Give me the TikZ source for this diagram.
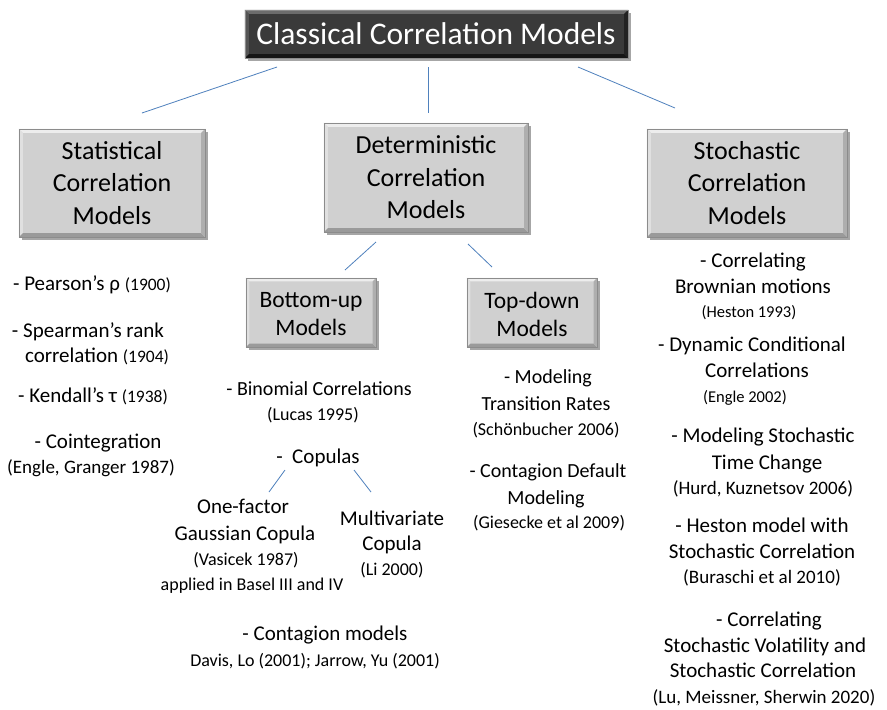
\documentclass[tikz,border=0pt]{standalone}
\usepackage{fontspec}
\setmainfont{Carlito}
\usetikzlibrary{calc,shadows}
\definecolor{boxfill}{HTML}{D0D0D0}
\definecolor{boxedge}{HTML}{8C8C8C}
\definecolor{bevlight}{HTML}{EDEDED}
\definecolor{bevlight2}{HTML}{E0E0E0}
\definecolor{bevdark}{HTML}{9A9A9A}
\definecolor{bevdark2}{HTML}{AEAEAE}
\definecolor{titlefill}{HTML}{3A3A3A}
\definecolor{tlight}{HTML}{6C6C6C}
\definecolor{tlight2}{HTML}{555555}
\definecolor{tdark}{HTML}{151515}
\definecolor{tdark2}{HTML}{222222}
\definecolor{linkc}{HTML}{4F81BD}
\newcommand\bevelit[6]{%
  \fill[#3] (#1.north west) -- (#1.north east) -- ($(#1.north east)+(-#2,#2)$) -- ($(#1.north west)+(#2,#2)$) -- cycle;
  \fill[#4] (#1.north west) -- ($(#1.north west)+(#2,#2)$) -- ($(#1.south west)+(#2,-#2)$) -- (#1.south west) -- cycle;
  \fill[#5] (#1.south west) -- (#1.south east) -- ($(#1.south east)+(-#2,-#2)$) -- ($(#1.south west)+(#2,-#2)$) -- cycle;
  \fill[#6] (#1.north east) -- (#1.south east) -- ($(#1.south east)+(-#2,-#2)$) -- ($(#1.north east)+(-#2,#2)$) -- cycle;
  \draw[boxedge,line width=0.6pt] (#1.north west) rectangle (#1.south east);
}
\newcommand\sm{\fontsize{17.5}{20}\selectfont}
\begin{document}
\begin{tikzpicture}[x=1pt,y=-1pt,
  box/.style={fill=boxfill, inner sep=0pt,
    drop shadow={shadow xshift=2.5pt,shadow yshift=-2.5pt,fill=black,opacity=0.35}},
  boxtext/.style={align=center, inner sep=0pt, font=\fontsize{26}{32.5}\selectfont},
  subtext/.style={boxtext, font=\fontsize{23.5}{28}\selectfont},
  titlebox/.style={fill=titlefill, inner sep=0pt,
    drop shadow={shadow xshift=2.5pt,shadow yshift=-2.5pt,fill=black,opacity=0.35}},
  itm/.style={inner sep=0pt, text height=14pt, text depth=4pt, font=\fontsize{21}{24}\selectfont},
  itmb/.style={itm, font=\fontsize{20}{24}\selectfont},
  smi/.style={itm, font=\fontsize{19}{22}\selectfont},
  smm/.style={itm, font=\fontsize{18}{22}\selectfont},
  sms/.style={itm, font=\fontsize{16.5}{20}\selectfont},
  link/.style={draw=linkc, line width=0.8pt}]
\useasboundingbox[fill=white] (0,0) rectangle (887,710);

% title
\node[titlebox, minimum width=383pt, minimum height=48pt] (title) at (436.5,34) {};
\bevelit{title}{4}{tlight}{tlight2}{tdark}{tdark2}
\node[text=white, inner sep=0pt, font=\fontsize{31.5}{34}\selectfont] (titletext) at (436,34) {Classical Correlation Models};

% main boxes
\node[box, minimum width=186pt, minimum height=108pt] (stat) at (112,183) {};
\bevelit{stat}{4}{bevlight}{bevlight2}{bevdark}{bevdark2}
\node[boxtext] (statt) at (stat.center) {Statistical\\Correlation\\Models};

\node[box, minimum width=204pt, minimum height=109pt] (det) at (426,177.5) {};
\bevelit{det}{4}{bevlight}{bevlight2}{bevdark}{bevdark2}
\node[boxtext] (dett) at (det.center) {Deterministic\\Correlation\\Models};

\node[box, minimum width=200pt, minimum height=108pt] (stoch) at (747,183) {};
\bevelit{stoch}{4}{bevlight}{bevlight2}{bevdark}{bevdark2}
\node[boxtext] (stocht) at (stoch.center) {Stochastic\\Correlation\\Models};

\node[box, minimum width=130pt, minimum height=69pt] (bu) at (311,312.5) {};
\bevelit{bu}{3.5}{bevlight}{bevlight2}{bevdark}{bevdark2}
\node[subtext] (but) at (311,314) {Bottom-up\\Models};

\node[box, minimum width=130pt, minimum height=69pt] (td) at (532,312.5) {};
\bevelit{td}{3.5}{bevlight}{bevlight2}{bevdark}{bevdark2}
\node[subtext] (tdt) at (532,314) {Top-down\\Models};

% connectors
\coordinate (l1a) at (277,67); \coordinate (l1b) at (142,113);
\coordinate (l2a) at (428,67); \coordinate (l2b) at (428,113);
\coordinate (l3a) at (578,67); \coordinate (l3b) at (675,108);
\coordinate (l4a) at (376,242); \coordinate (l4b) at (345,270);
\coordinate (l5a) at (468,244); \coordinate (l5b) at (492,267);
\coordinate (l6a) at (285,470); \coordinate (l6b) at (269,492);
\coordinate (l7a) at (354,470); \coordinate (l7b) at (371,492);
\draw[link] (l1a) -- (l1b);
\draw[link] (l2a) -- (l2b);
\draw[link] (l3a) -- (l3b);
\draw[link] (l4a) -- (l4b);
\draw[link] (l5a) -- (l5b);
\draw[link] (l6a) -- (l6b);
\draw[link] (l7a) -- (l7b);

% statistical items
\node[itm] (p1) at (92,285) {- Pearson’s ρ {\sm(1900)}};
\node[itm] (p2) at (88,332) {- Spearman’s rank};
\node[itm] (p3) at (97,357) {correlation {\sm(1904)}};
\node[itm] (p4) at (93,397) {- Kendall’s τ {\sm(1938)}};
\node[itm] (p5) at (98,443) {- Cointegration};
\node[smi] (p6) at (91,468) {(Engle, Granger 1987)};

% bottom-up items
\node[itmb] (b1) at (319,390) {- Binomial Correlations};
\node[smm] (b2) at (313,415) {(Lucas 1995)};
\node[itm] (c0) at (318,458) {-\ \ Copulas};
\node[itm] (g1) at (243,508) {One-factor};
\node[itm] (g2) at (245,535) {Gaussian Copula};
\node[smm] (g3) at (246,560) {(Vasicek 1987)};
\node[smm] (g4) at (252,585) {applied in Basel III and IV};
\node[itm] (m1) at (392,520) {Multivariate};
\node[itm] (m2) at (392,545) {Copula};
\node[smm] (m3) at (392,570) {(Li 2000)};
\node[itm] (k1) at (325,635) {- Contagion models};
\node[smm] (k2) at (315,661) {Davis, Lo (2001); Jarrow, Yu (2001)};

% top-down items
\node[itmb] (t1) at (548,378) {- Modeling};
\node[itmb] (t2) at (546,405) {Transition Rates};
\node[smm] (t3) at (546,430) {(Schönbucher 2006)};
\node[itmb] (t4) at (548,472) {- Contagion Default};
\node[itmb] (t5) at (546,499) {Modeling};
\node[smm] (t6) at (549,523) {(Giesecke et al 2009)};

% stochastic items
\node[itm] (s1) at (753,262) {- Correlating};
\node[itm] (s2) at (753,288) {Brownian motions};
\node[sms] (s3) at (749,312) {(Heston 1993)};
\node[itm] (s4) at (752,346) {- Dynamic Conditional};
\node[itm] (s5) at (757,372) {Correlations};
\node[sms] (s6) at (745,397) {(Engle 2002)};
\node[itm] (s7) at (763,437) {- Modeling Stochastic};
\node[itm] (s8) at (767,464) {Time Change};
\node[smi] (s9) at (763,489) {(Hurd, Kuznetsov 2006)};
\node[itm] (s10) at (762,527) {- Heston model with};
\node[itm] (s11) at (762,553) {Stochastic Correlation};
\node[smi] (s12) at (762,578) {(Buraschi et al 2010)};
\node[itm] (s13) at (769,621) {- Correlating};
\node[itm] (s14) at (765,647) {Stochastic Volatility and};
\node[itm] (s15) at (763,672) {Stochastic Correlation};
\node[smi] (s16) at (764,698) {(Lu, Meissner, Sherwin 2020)};
\end{tikzpicture}
\end{document}
